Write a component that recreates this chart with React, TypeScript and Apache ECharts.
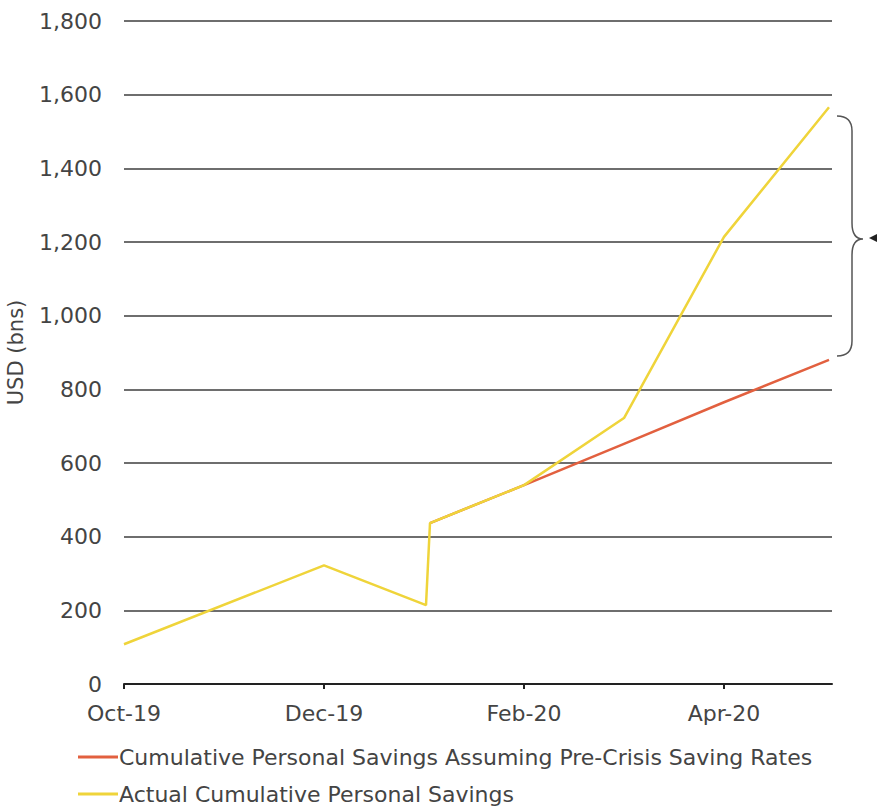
import React, { useEffect, useRef } from "react";
import * as echarts from "echarts";

const monthLabels = ["Oct-19", "Nov-19", "Dec-19", "Jan-20", "Feb-20", "Mar-20", "Apr-20", "May-20"];
const tickMonths = [0, 2, 4, 6];

const actualX = [0, 2, 3.02, 3.06, 4, 5, 6, 7.05];
const actualValues = [108, 322, 214, 437, 540, 722, 1214, 1566];

const preCrisisX = [3.06, 4, 5, 6, 7.05];
const preCrisisValues = [437, 540, 652, 765, 880];

const yTicks = [0, 200, 400, 600, 800, 1000, 1200, 1400, 1600, 1800];

const seriesNames = [
  "Cumulative Personal Savings Assuming Pre-Crisis Saving Rates",
  "Actual Cumulative Personal Savings",
];

const FONT = "DejaVu Sans";
const TEXT = "#444";
const FS = 22;

export default function App() {
  const ref = useRef<HTMLDivElement>(null);
  useEffect(() => {
    if (!ref.current) return;
    document.body.style.margin = "0";
    document.body.style.overflow = "hidden";
    echarts.graphic.registerShape(
      "brace",
      echarts.graphic.extendPath(
        "M0,0 Q15,0 15,15 L15,107 Q15,123 26,123 Q15,123 15,139 L15,225 Q15,240 0,240",
        {}
      )
    );
    const chart = echarts.init(ref.current, null, { renderer: "svg" });
    const fmt = (v: number) => v.toLocaleString("en-US");
    const legendBase = {
      orient: "horizontal",
      left: 78,
      padding: 0,
      icon: "rect",
      itemWidth: 40,
      itemHeight: 3,
      textStyle: { fontFamily: FONT, fontSize: FS, lineHeight: 22, color: TEXT, padding: [0, 0, 0, -4] },
    };
    chart.setOption({
      animation: false,
      backgroundColor: "#fff",
      textStyle: { fontFamily: FONT },
      grid: { left: 124, right: 45, top: 21, bottom: 122, containLabel: false, outerBoundsMode: "none" },
      legend: [
        { ...legendBase, top: 746, data: [seriesNames[0]] },
        { ...legendBase, top: 783, data: [seriesNames[1]] },
      ],
      xAxis: {
        type: "value",
        min: 0,
        max: 7.08,
        interval: 1,
        axisLine: { show: true, lineStyle: { color: "#222", width: 2 } },
        axisTick: { show: true, length: 5, lineStyle: { color: "#222", width: 2 }, customValues: tickMonths },
        axisLabel: {
          customValues: tickMonths,
          formatter: (v: number) => monthLabels[Math.round(v)] ?? "",
          fontFamily: FONT,
          fontSize: FS,
          color: TEXT,
          margin: 18,
        },
        splitLine: { show: false },
      },
      yAxis: {
        type: "value",
        min: yTicks[0],
        max: yTicks[yTicks.length - 1],
        interval: 200,
        name: "USD (bns)",
        nameLocation: "middle",
        nameGap: 98,
        nameTextStyle: { fontFamily: FONT, fontSize: 21, color: TEXT },
        axisLine: { show: false },
        axisTick: { show: false },
        axisLabel: { formatter: fmt, fontFamily: FONT, fontSize: FS, color: TEXT, margin: 22 },
        splitLine: { show: true, lineStyle: { color: "#6e6e6e", width: 2 } },
      },
      series: [
        {
          name: seriesNames[0],
          type: "line",
          symbol: "none",
          lineStyle: { color: "#E2603F", width: 2.5 },
          itemStyle: { color: "#E2603F" },
          data: preCrisisX.map((x, i) => [x, preCrisisValues[i]]),
          z: 2,
        },
        {
          name: seriesNames[1],
          type: "line",
          symbol: "none",
          lineStyle: { color: "#EFD43A", width: 2.5 },
          itemStyle: { color: "#EFD43A" },
          data: actualX.map((x, i) => [x, actualValues[i]]),
          z: 3,
        },
      ],
      graphic: [
        {
          type: "brace",
          x: 837,
          y: 116,
          style: { stroke: "#555", lineWidth: 1.5, fill: "none" },
        },
        {
          type: "polygon",
          shape: { points: [[869, 238], [877, 234], [877, 242]] },
          style: { fill: "#222" },
        },
      ],
    });
    return () => chart.dispose();
  }, []);
  return <div ref={ref} style={{ width: 877, height: 806 }} />;
}
